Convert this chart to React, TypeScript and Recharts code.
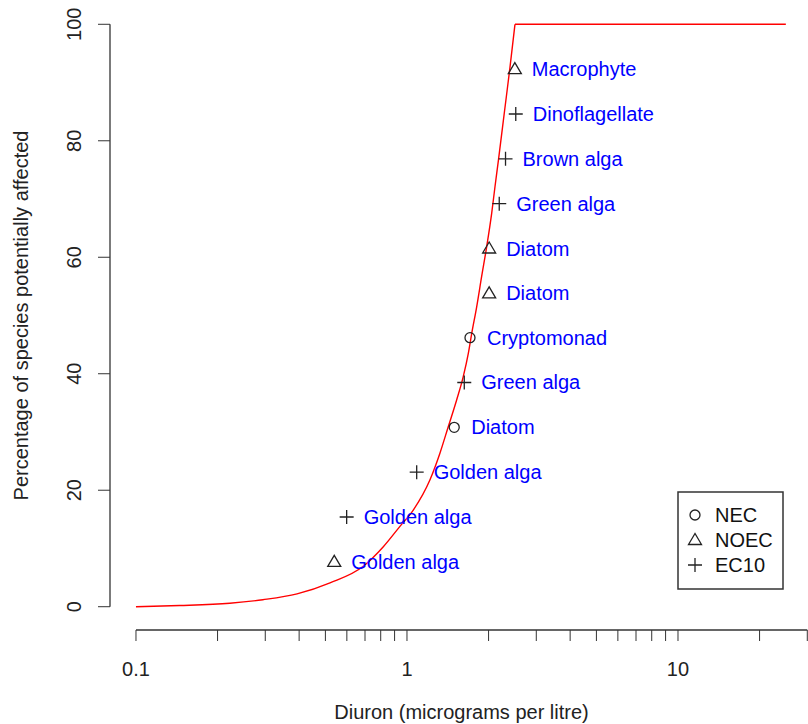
import React from "react";
import { ComposedChart, Line, Scatter, XAxis, YAxis, ReferenceLine } from "recharts";

const FONT = '"Liberation Sans", Arial, Helvetica, sans-serif';
const INK = "#222";
const LABEL_BLUE = "#0000ff";

// fitted species sensitivity curve
const curveX = [0.1, 0.145, 0.222, 0.294, 0.393, 0.52, 0.688, 0.818, 0.942, 1.055, 1.216, 1.324, 1.42, 1.525, 1.613, 1.684, 1.733, 1.808, 1.886, 1.968, 2.053, 2.112, 2.178, 2.292, 2.399, 2.503];
const curveY = [0, 0.2, 0.6, 1.2, 2.2, 4.1, 6.9, 10.3, 13.8, 16.6, 21.8, 26.4, 30.9, 35.5, 39.5, 43.5, 46.9, 51.5, 56.7, 61.8, 67.5, 72.1, 76.9, 85.2, 92.6, 100];
const plateauX = [2.503, 25];
const plateauY = [100, 100];

// toxicity endpoints
const necNames = ["Diatom", "Cryptomonad"];
const necX = [1.494, 1.708];
const necY = [30.8, 46.2];

const noecNames = ["Golden alga", "Diatom", "Diatom", "Macrophyte"];
const noecX = [0.539, 2.01, 2.01, 2.5];
const noecY = [7.7, 53.8, 61.5, 92.3];

const ec10Names = ["Golden alga", "Golden alga", "Green alga", "Green alga", "Brown alga", "Dinoflagellate"];
const ec10X = [0.599, 1.086, 1.627, 2.19, 2.31, 2.52];
const ec10Y = [15.4, 23.1, 38.5, 69.2, 76.9, 84.6];

// axes
const xTicks = [0.1, 0.2, 0.3, 0.4, 0.5, 0.6, 0.7, 0.8, 0.9, 1, 2, 3, 4, 5, 6, 7, 8, 9, 10, 20, 30];
const xTickLabels = ["0.1", "1", "10"];
const yTicks = [0, 20, 40, 60, 80, 100];

const zip = (xs: number[], ys: number[], names?: string[]) =>
  xs.map((x, i) => ({ x, y: ys[i], name: names ? names[i] : "" }));

const curveData = zip(curveX, curveY);
const plateauData = zip(plateauX, plateauY);
const necData = zip(necX, necY, necNames);
const noecData = zip(noecX, noecY, noecNames);
const ec10Data = zip(ec10X, ec10Y, ec10Names);

const label = (cx: number, cy: number, name: string) => (
  <text x={cx + 17} y={cy + 7} fill={LABEL_BLUE} fontSize={20} fontFamily={FONT}>
    {name}
  </text>
);

const circleMark = (cx: number, cy: number) => (
  <circle cx={cx} cy={cy} r={5} fill="none" stroke={INK} strokeWidth={1.3} />
);
const triangleMark = (cx: number, cy: number) => (
  <polygon
    points={`${cx},${cy - 6.5} ${cx - 6.5},${cy + 4.5} ${cx + 6.5},${cy + 4.5}`}
    fill="none"
    stroke={INK}
    strokeWidth={1.3}
  />
);
const plusMark = (cx: number, cy: number) => (
  <path d={`M${cx - 7},${cy}H${cx + 7}M${cx},${cy - 7}V${cy + 7}`} stroke={INK} strokeWidth={1.3} />
);

const makeShape = (mark: (cx: number, cy: number) => React.ReactNode) => (props: any) => {
  const { cx, cy, payload } = props;
  return (
    <g>
      {mark(cx, cy)}
      {label(cx, cy, payload.name)}
    </g>
  );
};

const YTick = (props: any) => {
  const { x, y, payload } = props;
  return (
    <text
      x={x}
      y={y}
      transform={`rotate(-90 ${x} ${y})`}
      textAnchor="middle"
      fontSize={20}
      fill={INK}
      fontFamily={FONT}
    >
      {payload.value}
    </text>
  );
};

const Legend = () => (
  <svg width={110} height={102} style={{ position: "absolute", left: 676, top: 490 }}>
    <rect x={2} y={2} width={105} height={97} fill="#fff" stroke="#333" strokeWidth={1.5} />
    <g transform="translate(-676,-490)">
      {circleMark(695, 515)}
      {triangleMark(695, 540)}
      {plusMark(695, 565)}
      {["NEC", "NOEC", "EC10"].map((t, i) => (
        <text key={t} x={715} y={522 + i * 25} fontSize={20} fill="#111" fontFamily={FONT}>
          {t}
        </text>
      ))}
    </g>
  </svg>
);

const X_MIN = 0.0802;
const X_MAX = 30.18;

export default function App() {
  return (
    <div style={{ position: "absolute", left: 0, top: 0, width: 808, height: 724, fontFamily: FONT, background: "#fff" }}>
      <ComposedChart width={808} height={724} margin={{ top: 1, right: 0, bottom: 0, left: 0 }}>
        <XAxis
          dataKey="x"
          type="number"
          scale="log"
          domain={[X_MIN, X_MAX]}
          allowDataOverflow
          ticks={xTicks}
          interval={0}
          tickFormatter={(v: number) => (xTickLabels.includes(String(v)) ? String(v) : "")}
          height={94}
          axisLine={false}
          tickSize={11}
          tickMargin={21}
          stroke="#333"
          tick={{ fill: INK, fontSize: 20 }}
          label={{
            content: () => (
              <text x={461.5} y={718.5} textAnchor="middle" fontSize={20} fill={INK} fontFamily={FONT}>
                Diuron (micrograms per litre)
              </text>
            ),
          }}
        />
        <YAxis
          type="number"
          domain={[-4, 104]}
          allowDataOverflow
          ticks={yTicks}
          interval={0}
          width={110}
          axisLine={false}
          tickSize={12}
          tickMargin={17}
          stroke="#333"
          tick={<YTick />}
          label={{
            content: () => (
              <text
                x={27.5}
                y={315.5}
                transform="rotate(-90 27.5 315.5)"
                textAnchor="middle"
                fontSize={20}
                fill={INK}
                fontFamily={FONT}
              >
                Percentage of species potentially affected
              </text>
            ),
          }}
        />
        <ReferenceLine
          segment={[{ x: 0.1, y: -4 }, { x: 30, y: -4 }]}
          stroke="#333"
          strokeWidth={1.3}
          ifOverflow="visible"
        />
        <ReferenceLine
          segment={[{ x: X_MIN, y: 0 }, { x: X_MIN, y: 100 }]}
          stroke="#333"
          strokeWidth={1.3}
          ifOverflow="visible"
        />
        <Line
          data={curveData}
          dataKey="y"
          type="monotone"
          stroke="#ff0000"
          strokeWidth={1.4}
          dot={false}
          activeDot={false}
          isAnimationActive={false}
        />
        <Line
          data={plateauData}
          dataKey="y"
          type="linear"
          stroke="#ff0000"
          strokeWidth={1.4}
          dot={false}
          activeDot={false}
          isAnimationActive={false}
        />
        <Scatter data={necData} dataKey="y" shape={makeShape(circleMark)} isAnimationActive={false} />
        <Scatter data={noecData} dataKey="y" shape={makeShape(triangleMark)} isAnimationActive={false} />
        <Scatter data={ec10Data} dataKey="y" shape={makeShape(plusMark)} isAnimationActive={false} />
      </ComposedChart>
      <Legend />
    </div>
  );
}
